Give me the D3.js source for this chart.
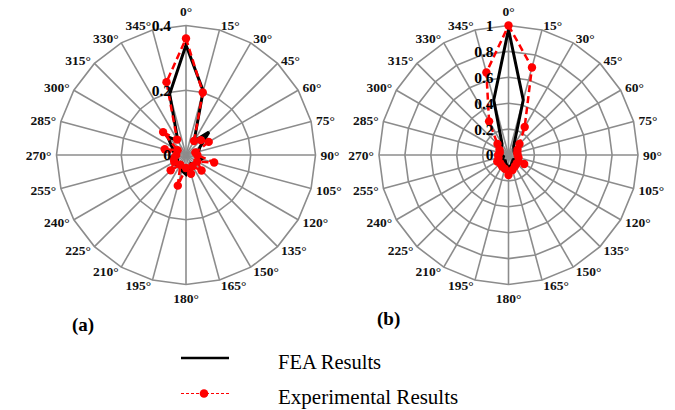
<!DOCTYPE html>
<html>
<head>
<meta charset="utf-8">
<script src="https://cdn.jsdelivr.net/npm/d3@7"></script>
<style>
  body { margin: 0; background: #fff; }
  svg text { font-family: "Liberation Serif", "Times New Roman", Times, serif; }
</style>
</head>
<body>
<svg id="chart" width="675" height="410"></svg>
<script>
// Direction categories (degrees, clockwise from top)
const anglesDeg = [0, 15, 30, 45, 60, 75, 90, 105, 120, 135, 150, 165,
                   180, 195, 210, 225, 240, 255, 270, 285, 300, 315, 330, 345];
const angleLabels = ["0°", "15°", "30°", "45°", "60°", "75°", "90°", "105°", "120°", "135°", "150°", "165°",
                     "180°", "195°", "210°", "225°", "240°", "255°", "270°", "285°", "300°", "315°", "330°", "345°"];

// Panel (a)
const ticksA = [0, 0.2, 0.4];
const tickLabelsA = ["0", "0.2", "0.4"];
const feaA = [0.34, 0.205, 0.05, 0.10, 0.05, 0.04, 0.04, 0.05, 0.04, 0.04, 0.03, 0.04,
              0.06, 0.05, 0.03, 0.04, 0.03, 0.03, 0.03, 0.04, 0.05, 0.08, 0.05, 0.195];
const expA = [0.36, 0.20, 0.05, 0.065, 0.081, 0.03, 0.035, 0.09, 0.04, 0.068, 0.04, 0.06,
              0.04, 0.098, 0.035, 0.067, 0.042, 0.04, 0.03, 0.068, 0.03, 0.10, 0.055, 0.233];

// Panel (b)
const ticksB = [0, 0.2, 0.4, 0.6, 0.8, 1];
const tickLabelsB = ["0", "0.2", "0.4", "0.6", "0.8", "1"];
const feaB = [0.97, 0.44, 0.08, 0.06, 0.05, 0.05, 0.06, 0.08, 0.06, 0.05, 0.06, 0.08,
              0.10, 0.07, 0.05, 0.06, 0.05, 0.04, 0.05, 0.06, 0.06, 0.08, 0.10, 0.44];
const expB = [1.0, 0.70, 0.25, 0.12, 0.08, 0.07, 0.07, 0.08, 0.14, 0.09, 0.10, 0.12,
              0.155, 0.11, 0.10, 0.09, 0.10, 0.08, 0.08, 0.07, 0.08, 0.12, 0.30, 0.66];

const seriesNames = ["FEA Results", "Experimental Results"];
const panelNames = ["(a)", "(b)"];

const FONT = '"Liberation Serif", "Times New Roman", Times, serif';
const svg = d3.select("#chart");
svg.append("rect").attr("width", 675).attr("height", 410).attr("fill", "#fff");

const R = 129.5;
const GRID = "#8c8c8c";
const toRad = d => d * Math.PI / 180;

function radar(cx, cy, ticks, tickLabels, fea, exp) {
  const g = svg.append("g").attr("transform", `translate(${cx},${cy})`)
    .attr("font-family", FONT);
  const r = d3.scaleLinear().domain([0, d3.max(ticks)]).range([0, R]);

  // grid rings (polygons) at each non-zero tick
  const ring = t => d3.lineRadial()
      .angle(d => toRad(d))
      .radius(() => r(t))
      .curve(d3.curveLinearClosed)(anglesDeg);
  g.selectAll("path.ring").data(ticks.filter(t => t > 0)).join("path")
    .attr("class", "ring")
    .attr("d", t => ring(t))
    .attr("fill", "none").attr("stroke", GRID).attr("stroke-width", 1.6);

  // spokes
  g.selectAll("line.spoke").data(anglesDeg).join("line")
    .attr("class", "spoke")
    .attr("x1", 0).attr("y1", 0)
    .attr("x2", d => R * Math.sin(toRad(d)))
    .attr("y2", d => -R * Math.cos(toRad(d)))
    .attr("stroke", GRID).attr("stroke-width", 1.6);

  // direction labels
  const gap = 5;
  g.selectAll("text.ang").data(anglesDeg).join("text")
    .attr("class", "ang")
    .attr("font-family", FONT)
    .attr("font-size", 13.5).attr("font-weight", "bold").attr("fill", "#111")
    .attr("x", d => (R + gap) * Math.sin(toRad(d)))
    .attr("y", d => {
      if (d === 0) return -(R + 10);
      if (d === 180) return R + 18;
      return -(R + gap) * Math.cos(toRad(d));
    })
    .attr("dy", d => (d === 0 || d === 180) ? 0 : "0.35em")
    .attr("text-anchor", d => d === 0 || d === 180 ? "middle" : (d < 180 ? "start" : "end"))
    .text((d, i) => angleLabels[i]);

  // series lines
  const line = d3.lineRadial()
      .angle((d, i) => toRad(anglesDeg[i]))
      .radius(d => r(d))
      .curve(d3.curveLinearClosed);

  g.append("path").attr("d", line(fea))
    .attr("fill", "none").attr("stroke", "#000").attr("stroke-width", 3)
    .attr("stroke-linejoin", "miter");

  g.append("path").attr("d", line(exp))
    .attr("fill", "none").attr("stroke", "#ff0000").attr("stroke-width", 2.5)
    .attr("stroke-dasharray", "7,4");

  g.selectAll("circle.pt").data(exp).join("circle")
    .attr("class", "pt")
    .attr("cx", (d, i) => r(d) * Math.sin(toRad(anglesDeg[i])))
    .attr("cy", (d, i) => -r(d) * Math.cos(toRad(anglesDeg[i])))
    .attr("r", 4.2)
    .attr("fill", "#ff0000");

  // radial tick labels
  g.selectAll("text.tick").data(ticks).join("text")
    .attr("class", "tick")
    .attr("font-family", FONT)
    .attr("x", -15)
    .attr("y", t => -r(t))
    .attr("dy", "0.35em")
    .attr("text-anchor", "end")
    .attr("font-size", 15.5).attr("font-weight", "bold").attr("fill", "#000")
    .text((t, i) => tickLabels[i]);
}

radar(186, 155, ticksA, tickLabelsA, feaA, expA);
radar(508.5, 155, ticksB, tickLabelsB, feaB, expB);

// panel captions
svg.append("text").attr("x", 72).attr("y", 331).attr("font-family", FONT)
  .attr("font-size", 19).attr("font-weight", "bold").text(panelNames[0]);
svg.append("text").attr("x", 377).attr("y", 325).attr("font-family", FONT)
  .attr("font-size", 19).attr("font-weight", "bold").text(panelNames[1]);

// legend
const lg = svg.append("g").attr("font-family", FONT);
lg.append("line").attr("x1", 181).attr("x2", 229).attr("y1", 358).attr("y2", 358)
  .attr("stroke", "#000").attr("stroke-width", 2.5);
lg.append("text").attr("x", 278).attr("y", 369).attr("font-size", 20.5)
  .text(seriesNames[0]);
lg.append("line").attr("x1", 181).attr("x2", 229).attr("y1", 393.5).attr("y2", 393.5)
  .attr("stroke", "#ff0000").attr("stroke-width", 1).attr("stroke-dasharray", "3,2");
lg.append("circle").attr("cx", 204).attr("cy", 393.5).attr("r", 4.3).attr("fill", "#ff0000");
lg.append("text").attr("x", 278).attr("y", 404).attr("font-size", 21)
  .text(seriesNames[1]);
</script>
</body>
</html>
